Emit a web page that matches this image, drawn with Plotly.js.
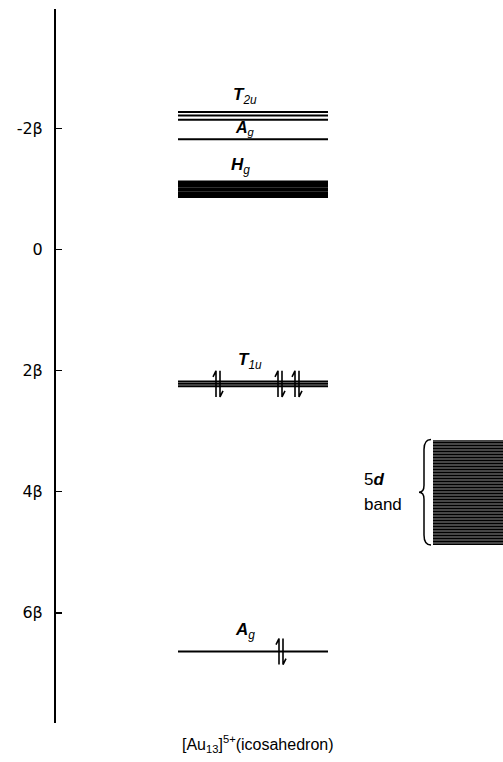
<!DOCTYPE html>
<html><head><meta charset="utf-8">
<script src="https://cdn.plot.ly/plotly-3.0.1.min.js"></script>
<style>html,body{margin:0;padding:0;background:#fff}#c{width:503px;height:762px}</style>
</head><body><div id="c"></div>
<script>
// Energy levels (in units of beta; negative = higher energy, drawn at top)
const levelNames = ["T2u", "Ag", "Hg", "T1u", "Ag"];
const levelLabels = ["<i><b>T</b></i><sub><i>2u</i></sub>", "<i><b>A</b><sub>g</sub></i>", "<i><b>H</b><sub>g</sub></i>", "<i><b>T</b></i><sub><i>1u</i></sub>", "<i><b>A</b><sub>g</sub></i>"];
const levelValues = [
  [-2.27, -2.21, -2.14],
  [-1.82],
  [-1.11, -1.05, -0.99, -0.93, -0.88],
  [2.18, 2.22, 2.26],
  [6.64]
];
// electron pairs: level index and horizontal slot
const electronLevel = [3, 3, 3, 4];
const electronX = [218, 280, 297, 281];
const bandTop = 3.14, bandBottom = 4.88;
const tickVals = [-2, 0, 2, 4, 6];
const tickText = ["-2\u03b2", "0", "2\u03b2", "4\u03b2", "6\u03b2"];

const X0 = 178, X1 = 328;
const px = 1/60.5;
const traces = [];
levelValues.forEach((vals, i) => {
  vals.forEach(v => {
    traces.push({type:'scatter', mode:'lines', x:[X0, X1], y:[v, v],
      line:{color:'#000', width: vals.length >= 5 ? 3.6 : 2}, hoverinfo:'skip', showlegend:false});
  });
});
// 5d band
traces.push({type:'bar', x:[468], base:[bandTop], y:[bandBottom - bandTop], width:[70],
  marker:{color:'#111', line:{width:0}, pattern:{shape:'-', fgcolor:'#000', bgcolor:'#e8e8e8', size:3, solidity:0.8, fillmode:'replace'}},
  hoverinfo:'skip', showlegend:false});

const labelShift = [3, -1, 3, 7, 8];
const labelX = [245, 245, 240, 250, 245];
const labelSize = [17, 16, 17, 17, 17];
const ann = [];
levelValues.forEach((vals, i) => {
  const top = Math.min(...vals);
  ann.push({x: labelX[i], y: top, xref:'x', yref:'y', yshift: labelShift[i], yanchor:'bottom', showarrow:false,
    text: levelLabels[i], font:{family:'Liberation Sans, Arial', size:labelSize[i], color:'#000'}});
});
ann.push({x: 362, y: 3.80, xref:'x', yref:'y', xanchor:'left', showarrow:false,
  text:'5<i><b>d</b></i>', font:{family:'Liberation Sans, Arial', size:17, color:'#000'}});
ann.push({x: 362, y: 4.21, xref:'x', yref:'y', xanchor:'left', showarrow:false,
  text:'band', font:{family:'Liberation Sans, Arial', size:17, color:'#000'}});
ann.push({x: 258, y: 0, xref:'x', yref:'paper', yanchor:'top', yshift:-8, showarrow:false,
  text:'[Au<sub>13</sub>]<sup>5+</sup>(icosahedron)', font:{family:'Liberation Sans, Arial', size:16, color:'#000'}});

const shapes = [];
// electron pairs as up/down half-arrows
electronX.forEach((x, k) => {
  const vals = levelValues[electronLevel[k]];
  const mid = vals.reduce((a,b)=>a+b,0)/vals.length;
  const top = mid - 13*px, bot = mid + 13*px;
  shapes.push({type:'path', xref:'x', yref:'y', line:{color:'#000', width:1.6},
    path:`M ${x-2},${bot} L ${x-2},${top} L ${x-5},${top+6*px}`});
  shapes.push({type:'path', xref:'x', yref:'y', line:{color:'#000', width:1.6},
    path:`M ${x+2},${top} L ${x+2},${bot} L ${x+5},${bot-6*px}`});
});
// brace
const a = bandTop, b = bandBottom, m = (a+b)/2;
const bx = 431, bi = 424, bt = 419;
shapes.push({type:'path', xref:'x', yref:'y', line:{color:'#000', width:1.5},
  path:`M ${bx},${a} Q ${bi},${a} ${bi},${a+10*px} L ${bi},${m-7*px} Q ${bi},${m} ${bt},${m} Q ${bi},${m} ${bi},${m+7*px} L ${bi},${b-10*px} Q ${bi},${b} ${bx},${b}`});

const layout = {
  width:503, height:762,
  margin:{l:56, r:0, t:9, b:39},
  paper_bgcolor:'#fff', plot_bgcolor:'#fff',
  xaxis:{range:[56, 503], visible:false, fixedrange:true},
  yaxis:{range:[7.82, -3.97], showline:true, linecolor:'#000', linewidth:2, showgrid:false, zeroline:false,
    tickvals:tickVals, ticktext:tickText, ticks:'inside', ticklen:6, tickwidth:1.5, tickcolor:'#000',
    tickfont:{family:'DejaVu Sans, Arial', size:16, color:'#000'}, ticklabelstandoff:8},
  annotations: ann,
  shapes: shapes,
  bargap:0, showlegend:false
};
Plotly.newPlot('c', traces, layout, {staticPlot:true, displayModeBar:false});
</script></body></html>
